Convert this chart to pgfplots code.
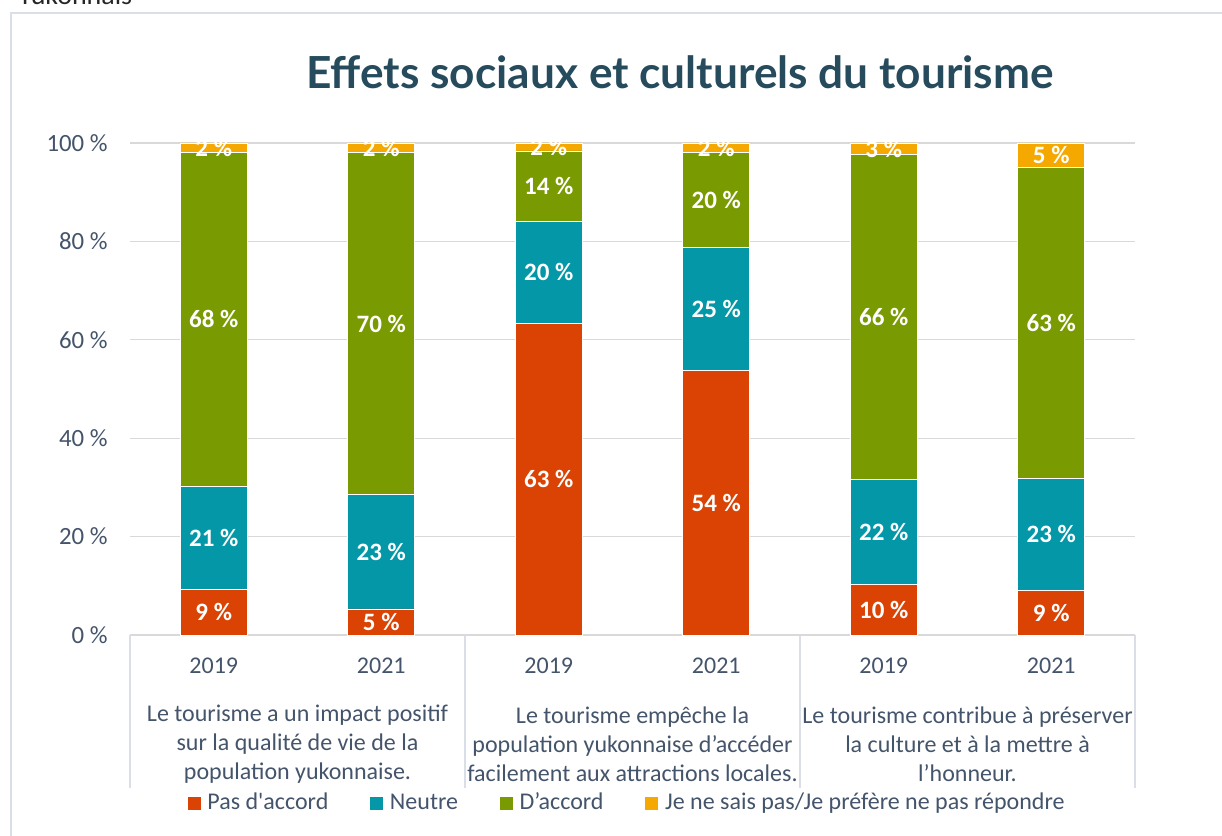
\documentclass[border=0pt]{standalone}
\usepackage{pgfplots}
\pgfplotsset{compat=1.18}
\usepackage{fontspec}
\setmainfont{Carlito}[Ligatures=TeXOff]
\newfontfamily\titlefont{Lato}
\definecolor{pasrouge}{HTML}{DA4304}
\definecolor{neutreteal}{HTML}{0397A7}
\definecolor{accordvert}{HTML}{7A9A01}
\definecolor{nspjaune}{HTML}{F5A800}
\definecolor{textgris}{HTML}{44546A}
\definecolor{titrebleu}{HTML}{254B5C}
\definecolor{grille}{HTML}{D9D9D9}
\definecolor{cadre}{HTML}{D9DEE7}

\begin{document}
\begin{tikzpicture}
\useasboundingbox (0,0) rectangle (611pt,418pt);

% decorations in pixel units (1222x836, y down)
\begin{scope}[x=0.5pt,y=-0.5pt,shift={(0pt,418pt)}]
  \draw[cadre, line width=1pt] (11,13) rectangle (1260,880);
  \node[anchor=base west, inner sep=0pt, font=\fontsize{14}{16}\selectfont, text=black!85] at (18,5) {Yukonnais};
  \node[font=\titlefont\bfseries\fontsize{22.1}{25}\selectfont, text=titrebleu] at (680,72) {Effets sociaux et culturels du tourisme};
  \foreach \xx in {130,465,800,1135}
    \draw[cadre, line width=1pt] (\xx,635) -- (\xx,788);
  \foreach \xx/\txt in {297.5/{Le tourisme a un impact positif\\sur la qualité de vie de la\\population yukonnaise.},
                        632.5/{Le tourisme empêche la\\population yukonnaise d’accéder\\facilement aux attractions locales.},
                        967.5/{Le tourisme contribue à préserver\\la culture et à la mettre à\\l’honneur.}}
    \node[align=center, text=textgris, font=\fontsize{12}{14.5}\selectfont, inner sep=0pt] at (\xx,744) {\txt};
\end{scope}

\begin{axis}[
  at={(65pt,100.5pt)}, anchor=south west,
  scale only axis, width=502.5pt, height=246pt,
  ybar stacked, bar width=33.5pt,
  xmin=-0.5, xmax=5.5, ymin=0, ymax=100,
  xtick={0,1,2,3,4,5},
  xticklabels={2019,2021,2019,2021,2019,2021},
  ytick={0,20,40,60,80,100},
  yticklabels={0~\%,20~\%,40~\%,60~\%,80~\%,100~\%},
  axis line style={draw=none},
  tick style={draw=none},
  ymajorgrids=true,
  major grid style={draw=grille, line width=0.6pt},
  yticklabel style={inner sep=0pt, anchor=east, xshift=-11pt, text=textgris, font=\fontsize{12.4}{14}\selectfont},
  xticklabel style={inner sep=0pt, anchor=center, yshift=-15.5pt, text=textgris, font=\fontsize{12}{14}\selectfont},
  legend style={
    at={(0.4955,-0.3415)}, anchor=center,
    draw=none, fill=none,
    legend columns=-1,
    font=\fontsize{12}{14}\selectfont, text=textgris,
    nodes={inner sep=1.9pt},
    /tikz/every odd column/.append style={column sep=1.5pt},
    /tikz/every even column/.append style={column sep=19pt}
  },
  legend image code/.code={
    \fill[#1, draw=none] (0pt,-3.25pt) rectangle (6.5pt,3.25pt);
  },
  clip=false,
]
\addplot[fill=pasrouge, draw=white, line width=0.35pt] coordinates {(0,9.2) (1,5.3) (2,63.4) (3,53.8) (4,10.2) (5,9.1)};
\addplot[fill=neutreteal, draw=white, line width=0.35pt] coordinates {(0,21.1) (1,23.2) (2,20.7) (3,24.9) (4,21.5) (5,22.8)};
\addplot[fill=accordvert, draw=white, line width=0.35pt] coordinates {(0,67.7) (1,69.6) (2,14.3) (3,19.4) (4,65.9) (5,63.2)};
\addplot[fill=nspjaune, draw=white, line width=0.35pt] coordinates {(0,2.0) (1,1.9) (2,1.6) (3,1.9) (4,2.4) (5,4.9)};
\legend{Pas d'accord, Neutre, D’accord, Je ne sais pas/Je préfère ne pas répondre}
\end{axis}

\begin{axis}[
  at={(65pt,100.5pt)}, anchor=south west,
  scale only axis, width=502.5pt, height=246pt,
  xmin=-0.5, xmax=5.5, ymin=0, ymax=100,
  hide axis, clip=false,
]
\addplot[only marks, mark=none, nodes near coords, point meta=explicit symbolic,
  every node near coord/.style={anchor=center, inner sep=0pt, text=white, font=\bfseries\fontsize{12.5}{14}\selectfont}]
  coordinates {
  (0,4.6) [9~\%] (0,19.75) [21~\%] (0,64.15) [68~\%] (0,99.0) [2~\%]
  (1,2.65) [5~\%] (1,16.9) [23~\%] (1,63.3) [70~\%] (1,99.05) [2~\%]
  (2,31.7) [63~\%] (2,73.75) [20~\%] (2,91.25) [14~\%] (2,99.2) [2~\%]
  (3,26.9) [54~\%] (3,66.25) [25~\%] (3,88.4) [20~\%] (3,99.05) [2~\%]
  (4,5.1) [10~\%] (4,20.95) [22~\%] (4,64.65) [66~\%] (4,98.8) [3~\%]
  (5,4.55) [9~\%] (5,20.5) [23~\%] (5,63.5) [63~\%] (5,97.55) [5~\%]
  };
\end{axis}
\end{tikzpicture}
\end{document}
